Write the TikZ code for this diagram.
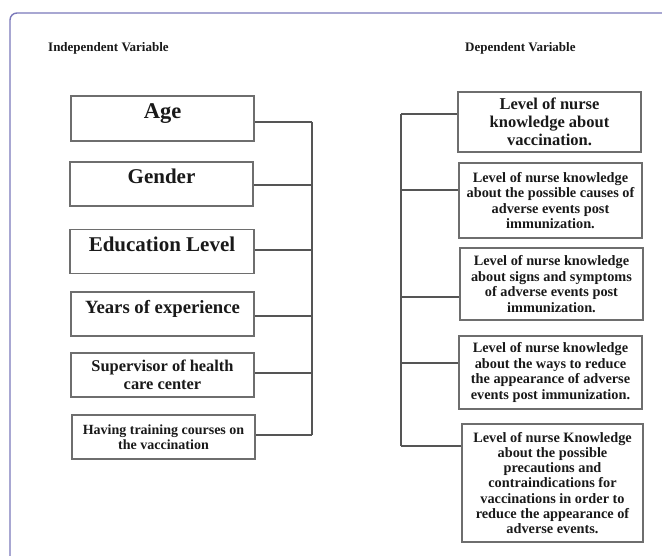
\documentclass[tikz,border=0pt]{standalone}
\usepackage{fontspec}
\setmainfont{Liberation Serif}
\definecolor{framecol}{RGB}{122,120,186}
\definecolor{boxcol}{RGB}{110,110,110}
\definecolor{linecol}{RGB}{85,85,85}
\definecolor{txtcol}{RGB}{25,25,25}
\tikzset{
  vbox/.style={draw=boxcol, line width=1.1pt, inner sep=0pt, align=center,
    text=txtcol, font=\bfseries, minimum width=183pt},
  onebox/.style={vbox, text height=0pt, text depth=0pt},
  conn/.style={draw=linecol, line width=1.1pt},
  title/.style={anchor=base west, inner sep=0pt, text=txtcol,
    font=\bfseries\fontsize{13}{15}\selectfont}
}
\begin{document}
\begin{tikzpicture}[x=1pt,y=-1pt]
\useasboundingbox (0,0) rectangle (662,556);
\draw[framecol, line width=1.4pt, rounded corners=7pt] (10,557) -- (10,13) -- (663,13);

\node[title] (tind) at (48,52) {Independent Variable};
\node[title] (tdep) at (465,52) {Dependent Variable};

% left boxes
\node[onebox, minimum height=45pt, font=\bfseries\fontsize{22.5}{26}\selectfont] (l1) at (162.5,118.5) {Age};
\node[onebox, minimum height=44pt, font=\bfseries\fontsize{21}{24}\selectfont] (l2) at (161.5,184) {Gender};
\node[onebox, minimum height=44pt, minimum width=184pt, font=\bfseries\fontsize{21}{24}\selectfont] (l3) at (162,251.5) {Education Level};
\node[onebox, minimum height=44pt, font=\bfseries\fontsize{18.7}{22}\selectfont] (l4) at (162.5,314) {Years of experience};
\node[vbox, minimum height=44pt, font=\bfseries\fontsize{16.4}{18}\selectfont] (l5) at (162.5,375) {Supervisor of health\\care center};
\node[vbox, minimum height=44pt, font=\bfseries\fontsize{14}{14.5}\selectfont] (l6) at (163.5,437) {Having training courses on\\the vaccination};

% right boxes
\node[vbox, minimum height=60pt, font=\bfseries\fontsize{16.5}{18}\selectfont] (r1) at (549.5,122) {Level of nurse\\knowledge about\\vaccination.};
\node[vbox, minimum height=75pt, font=\bfseries\fontsize{14.3}{15.6}\selectfont] (r2) at (550.5,200.5) {Level of nurse knowledge\\about the possible causes of\\adverse events post\\immunization.};
\node[vbox, minimum height=72pt, font=\bfseries\fontsize{14.3}{15.6}\selectfont] (r3) at (551.5,284) {Level of nurse knowledge\\about signs and symptoms\\of adverse events post\\immunization.};
\node[vbox, minimum height=73pt, font=\bfseries\fontsize{14.3}{15.4}\selectfont] (r4) at (550.5,372.5) {Level of nurse knowledge\\about the ways to reduce\\the appearance of adverse\\events post immunization.};
\node[vbox, minimum height=118pt, minimum width=181pt, font=\bfseries\fontsize{14.3}{15.3}\selectfont] (r5) at (552.5,483) {Level of nurse Knowledge\\about the possible\\precautions and\\contraindications for\\vaccinations in order to\\reduce the appearance of\\adverse events.};

% left bus
\coordinate (lb1) at (312,122);
\coordinate (lb2) at (312,185);
\coordinate (lb3) at (312,250);
\coordinate (lb4) at (312,316);
\coordinate (lb5) at (312,373);
\coordinate (lb6) at (312,435);
\draw[conn] (lb1) -- (lb6);
\foreach \i in {1,...,6} {\draw[conn] (lb\i) -- (lb\i -| l\i.east);}

% right bus
\coordinate (rb1) at (401,114);
\coordinate (rb2) at (401,190);
\coordinate (rb3) at (401,297);
\coordinate (rb4) at (401,363);
\coordinate (rb5) at (401,446);
\draw[conn] (rb1) -- (rb5);
\foreach \i in {1,...,5} {\draw[conn] (rb\i) -- (rb\i -| r\i.west);}
\end{tikzpicture}
\end{document}
